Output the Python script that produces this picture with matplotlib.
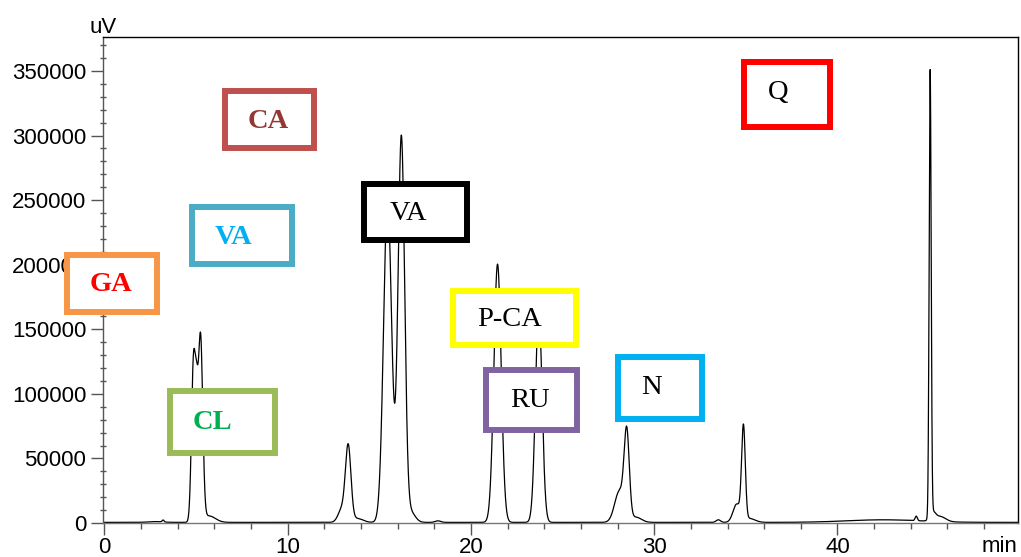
import matplotlib.pyplot as plt
from matplotlib.patches import Rectangle
from matplotlib.ticker import MultipleLocator
import numpy as np

# peaks: retention time (min), height (uV), width (sigma, min)
peak_time = [2.8, 3.2, 4.86, 5.03, 5.24, 5.7, 12.95, 13.3, 13.8,
             15.45, 16.2, 16.7, 18.2, 21.45, 23.7, 28.1, 28.5, 29.0,
             33.5, 34.5, 34.87, 35.2, 42.5, 44.3, 45.06, 45.2, 45.6]
peak_height = [600, 1500, 125000, 55000, 143000, 5000, 10000, 58000, 3000,
               250000, 298000, 8000, 1200, 200000, 165000, 24000, 66000, 4000,
               2000, 14000, 72000, 3000, 2000, 3500, 345000, 6000, 4000]
peak_sigma = [0.4, 0.05, 0.11, 0.08, 0.12, 0.35, 0.2, 0.15, 0.3,
              0.22, 0.18, 0.25, 0.15, 0.2, 0.18, 0.26, 0.14, 0.3,
              0.12, 0.2, 0.1, 0.3, 2.0, 0.06, 0.055, 0.15, 0.3]
baseline = 500

# compound labels: name, text colour, bold, box edge colour, box (x0, x1, y0, y1)
labels = ["CA", "VA", "GA", "CL", "VA", "P-CA", "RU", "N", "Q"]
label_colors = ["#953735", "#00B0F0", "#FF0000", "#00B050", "black", "black", "black", "black", "black"]
label_bold = [True, True, True, True, False, False, False, False, False]
box_colors = ["#C0504D", "#4BACC6", "#F79646", "#9BBB59", "black", "#FFFF00", "#8064A2", "#00B0F0", "#FF0000"]
boxes = [(6.55, 11.45, 290400, 334500), (4.75, 10.26, 200500, 244700),
         (-2.07, 2.89, 163400, 207500), (3.55, 9.33, 54200, 102200),
         (14.18, 19.80, 219100, 262500), (19.04, 25.75, 137800, 179600),
         (20.84, 25.80, 72000, 118500), (28.04, 32.62, 80500, 128500),
         (34.91, 39.60, 306600, 356900)]
text_pos = [(8.95, 310500), (7.04, 220700), (0.33, 184300), (5.89, 78200),
            (16.58, 240000), (22.09, 157200), (23.24, 95200), (29.84, 105300),
            (36.76, 333000)]

t = np.arange(0, 50, 0.004)
signal = np.full_like(t, baseline, dtype=float)
for t0, h, s in zip(peak_time, peak_height, peak_sigma):
    signal += h * np.exp(-(t - t0) ** 2 / (2 * s ** 2))

plt.rcParams['font.family'] = ['Liberation Sans', 'DejaVu Sans']
fig = plt.figure(figsize=(10.21, 5.57), dpi=100)
ax = fig.add_axes([0.1009, 0.061, 0.8961, 0.8726])
ax.plot(t, signal, color='black', lw=0.9)
ax.set_xlim(-0.08, 49.85)
ax.set_ylim(0, 376300)

ax.xaxis.set_major_locator(MultipleLocator(10))
ax.xaxis.set_minor_locator(MultipleLocator(2))
ax.yaxis.set_major_locator(MultipleLocator(50000))
ax.yaxis.set_minor_locator(MultipleLocator(10000))
ax.tick_params(axis='both', which='major', labelsize=16, color='#555555', direction='out', length=8.6, width=1)
ax.tick_params(axis='y', which='major', pad=3.5)
ax.tick_params(axis='x', which='major', pad=1.5)
ax.tick_params(axis='y', which='minor', direction='inout', length=4.8, width=1, color='#555555')
ax.tick_params(axis='x', which='minor', direction='out', length=4.3, width=1, color='#555555')
ax.spines['left'].set_color('#555555')
ax.spines['bottom'].set_color('#777777')
for side in ['top', 'right']:
    ax.spines[side].set_color('black')
for sp in ax.spines.values():
    sp.set_linewidth(1)

for name, tc, bold, bc, (x0, x1, y0, y1), (tx, ty) in zip(labels, label_colors, label_bold, box_colors, boxes, text_pos):
    ax.add_patch(Rectangle((x0, y0), x1 - x0, y1 - y0, facecolor='white', edgecolor=bc,
                           lw=4.3, clip_on=False, zorder=3))
    ax.text(tx, ty, name, color=tc, fontsize=20.5, family=['Liberation Serif', 'DejaVu Serif'],
            fontweight='bold' if bold else 'normal', ha='center', va='center', zorder=4)

fig.text(0.1009, 0.941, "uV", fontsize=16, ha='center', va='baseline')
fig.text(0.997, 0.009, "min", fontsize=16, ha='right', va='baseline')

fig.savefig("out.png", dpi=100)
